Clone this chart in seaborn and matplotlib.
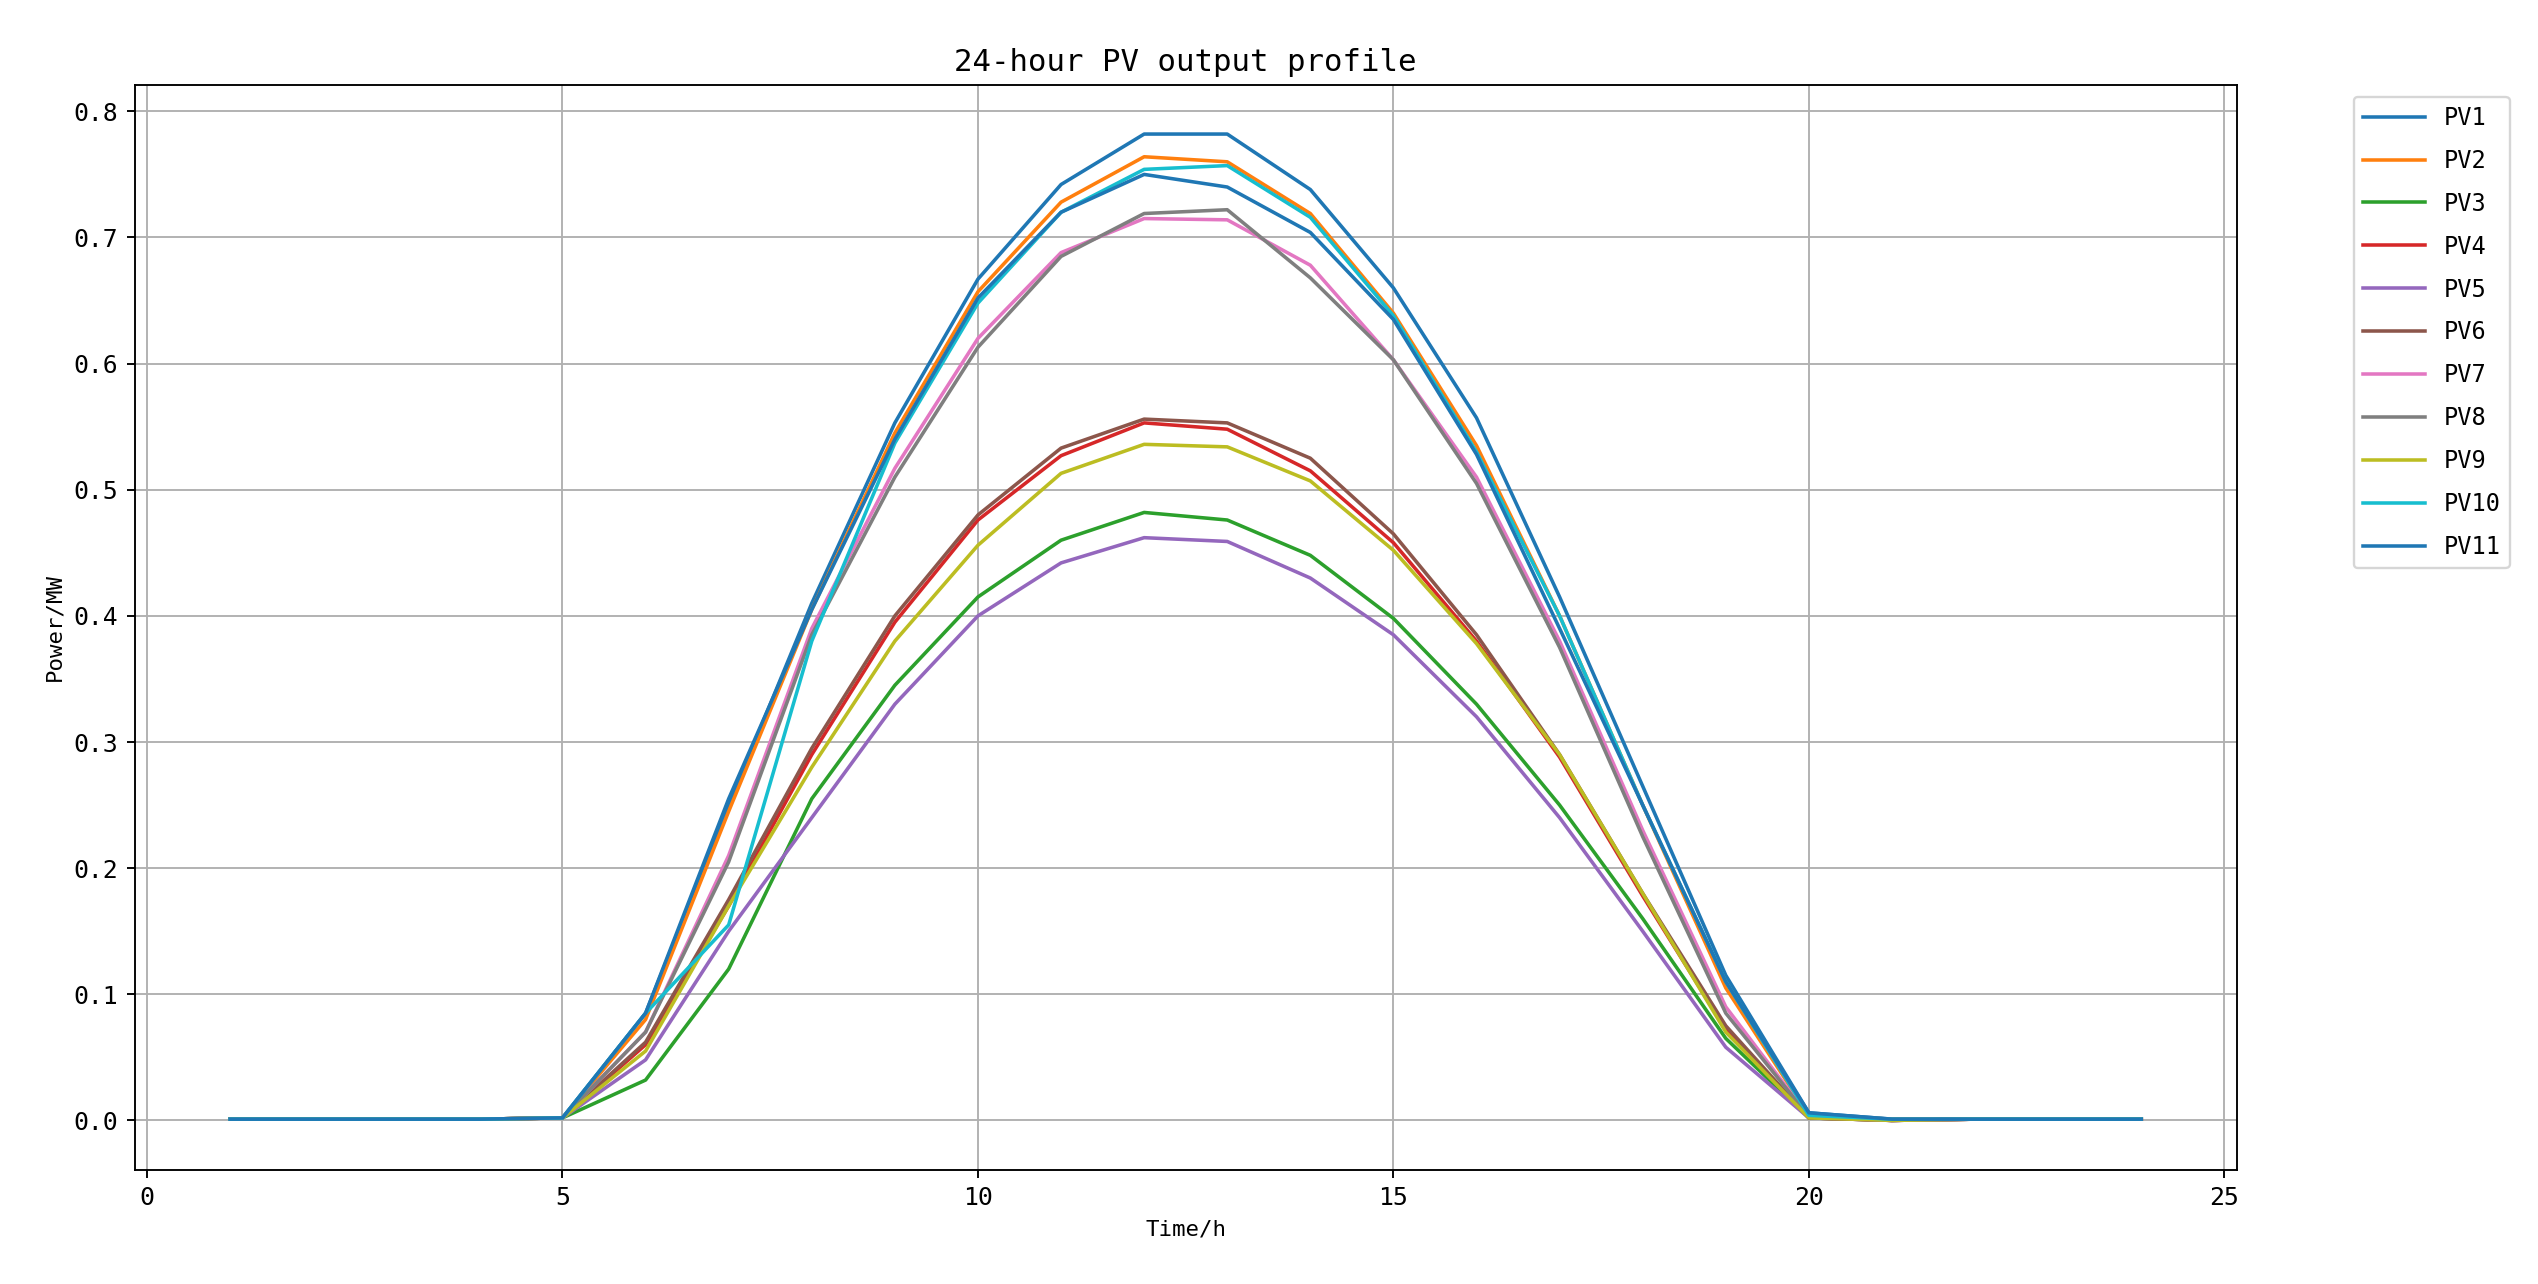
import matplotlib
matplotlib.use('Agg')
import matplotlib.pyplot as plt
import numpy as np
import pandas as pd
import seaborn as sns

hours = list(range(1, 25))
night_am = [0.001, 0.001, 0.001, 0.001]
night_pm = [0.001, 0.001, 0.001]

pv1 = night_am + [0.002, 0.085, 0.250, 0.410, 0.553, 0.667, 0.742, 0.782, 0.782, 0.738, 0.660, 0.557, 0.415, 0.265, 0.115, 0.006, 0.001] + night_pm
pv2 = night_am + [0.002, 0.080, 0.245, 0.405, 0.545, 0.657, 0.728, 0.764, 0.760, 0.719, 0.640, 0.535, 0.400, 0.250, 0.105, 0.004, 0.001] + night_pm
pv3 = night_am + [0.002, 0.032, 0.120, 0.255, 0.345, 0.415, 0.460, 0.482, 0.476, 0.448, 0.398, 0.330, 0.250, 0.160, 0.065, 0.002, 0.000] + night_pm
pv4 = night_am + [0.002, 0.060, 0.170, 0.290, 0.395, 0.476, 0.527, 0.553, 0.548, 0.515, 0.458, 0.380, 0.288, 0.178, 0.072, 0.002, 0.000] + night_pm
pv5 = night_am + [0.002, 0.048, 0.150, 0.240, 0.330, 0.400, 0.442, 0.462, 0.459, 0.430, 0.385, 0.320, 0.240, 0.150, 0.058, 0.002, 0.000] + night_pm
pv6 = night_am + [0.002, 0.062, 0.175, 0.295, 0.400, 0.480, 0.533, 0.556, 0.553, 0.525, 0.465, 0.385, 0.290, 0.180, 0.075, 0.002, 0.000] + night_pm
pv7 = night_am + [0.002, 0.070, 0.210, 0.390, 0.517, 0.620, 0.688, 0.715, 0.714, 0.678, 0.603, 0.510, 0.380, 0.230, 0.090, 0.003, 0.000] + night_pm
pv8 = night_am + [0.002, 0.070, 0.205, 0.385, 0.510, 0.613, 0.685, 0.719, 0.722, 0.668, 0.603, 0.505, 0.375, 0.225, 0.085, 0.003, 0.000] + night_pm
pv9 = night_am + [0.002, 0.055, 0.170, 0.280, 0.380, 0.456, 0.513, 0.536, 0.534, 0.507, 0.452, 0.378, 0.290, 0.180, 0.070, 0.002, 0.000] + night_pm
pv10 = night_am + [0.002, 0.085, 0.155, 0.380, 0.537, 0.648, 0.720, 0.754, 0.757, 0.716, 0.638, 0.530, 0.400, 0.250, 0.110, 0.004, 0.001] + night_pm
pv11 = night_am + [0.002, 0.085, 0.255, 0.405, 0.540, 0.652, 0.720, 0.750, 0.740, 0.704, 0.635, 0.528, 0.390, 0.250, 0.110, 0.006, 0.001] + night_pm

names = ['PV1', 'PV2', 'PV3', 'PV4', 'PV5', 'PV6', 'PV7', 'PV8', 'PV9', 'PV10', 'PV11']
series = [pv1, pv2, pv3, pv4, pv5, pv6, pv7, pv8, pv9, pv10, pv11]

rows = []
for name, vals in zip(names, series):
    for h, v in zip(hours, vals):
        rows.append({'hour': h, 'power': v, 'pv': name})
df = pd.DataFrame(rows)

plt.rcParams['font.family'] = ['DejaVu Sans Mono']
plt.rcParams['font.size'] = 9

tab = sns.color_palette('tab10', 10)
p = [tab[i % 10] for i in range(len(names))]

fig, ax = plt.subplots(figsize=(14.935, 7.553), dpi=170)
sns.lineplot(data=df, x='hour', y='power', hue='pv', hue_order=names, palette=p, linewidth=1.5, ax=ax)

ax.set_title('24-hour PV output profile', fontsize=13)
ax.set_xlabel('Time/h', fontsize=9.5)
ax.set_ylabel('Power/MW', fontsize=9.5)
ax.tick_params(labelsize=10.5)
ax.grid(True)
ax.legend(bbox_to_anchor=(1.05, 1), loc='upper left', fontsize=10,
          labelspacing=0.8, handlelength=2.6)

fig.subplots_adjust(left=0.053, right=0.881, top=0.934, bottom=0.089)
plt.savefig('out.png', dpi=170)
plt.close('all')
